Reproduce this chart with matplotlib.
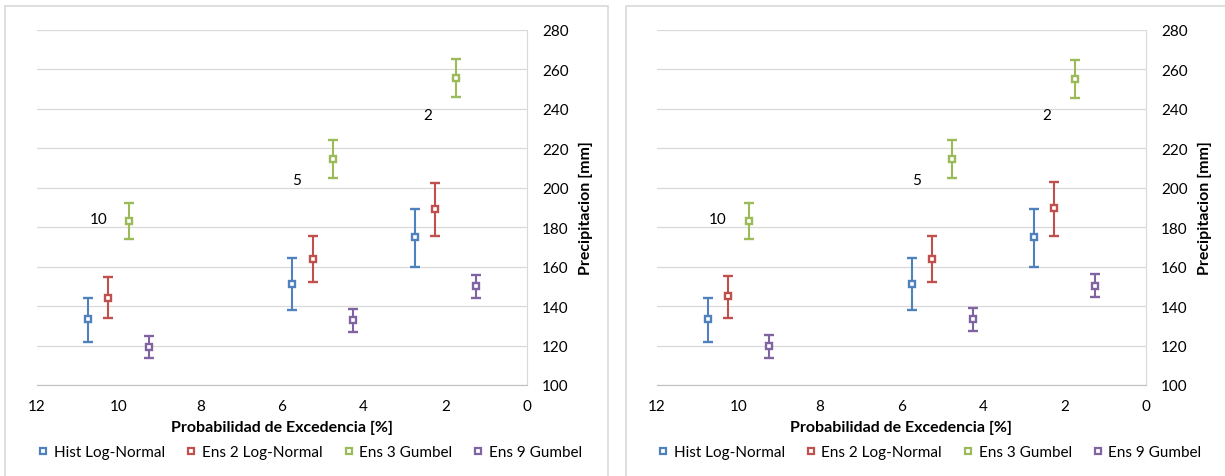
import numpy as np
import matplotlib
matplotlib.use('Agg')
import matplotlib.pyplot as plt
from matplotlib.lines import Line2D
from matplotlib.patches import Rectangle

plt.rcParams['font.family'] = ['Lato', 'DejaVu Sans']

# return periods (years) -> exceedance probability position on x
periods = ['10', '5', '2']
prob = np.array([10, 5, 2])
series = ['Hist Log-Normal', 'Ens 2 Log-Normal', 'Ens 3 Gumbel', 'Ens 9 Gumbel']

# left panel: value, upper bound, lower bound
left_val = {
    'Hist Log-Normal': [133.3, 151.2, 174.8],
    'Ens 2 Log-Normal': [144.1, 163.9, 189.1],
    'Ens 3 Gumbel': [183.2, 214.7, 255.8],
    'Ens 9 Gumbel': [119.4, 133.0, 150.0],
}
left_hi = {
    'Hist Log-Normal': [144.1, 164.3, 189.3],
    'Ens 2 Log-Normal': [154.8, 175.3, 202.5],
    'Ens 3 Gumbel': [192.5, 224.0, 265.1],
    'Ens 9 Gumbel': [125.0, 138.5, 155.6],
}
left_lo = {
    'Hist Log-Normal': [121.8, 138.0, 159.9],
    'Ens 2 Log-Normal': [133.8, 152.1, 175.6],
    'Ens 3 Gumbel': [174.1, 205.2, 246.0],
    'Ens 9 Gumbel': [113.5, 127.0, 144.1],
}

# right panel
right_val = {
    'Hist Log-Normal': [133.3, 151.2, 174.8],
    'Ens 2 Log-Normal': [145.0, 163.9, 189.6],
    'Ens 3 Gumbel': [183.2, 214.7, 255.0],
    'Ens 9 Gumbel': [119.8, 133.3, 150.4],
}
right_hi = {
    'Hist Log-Normal': [144.1, 164.3, 189.3],
    'Ens 2 Log-Normal': [155.1, 175.8, 202.8],
    'Ens 3 Gumbel': [192.5, 224.0, 264.8],
    'Ens 9 Gumbel': [125.5, 138.9, 156.1],
}
right_lo = {
    'Hist Log-Normal': [121.8, 138.0, 159.7],
    'Ens 2 Log-Normal': [134.2, 152.4, 175.6],
    'Ens 3 Gumbel': [174.1, 205.2, 245.5],
    'Ens 9 Gumbel': [113.7, 127.4, 144.6],
}

# period label positions (x, y)
label_x = [10.5, 5.64, 2.43]
label_y = [184.4, 204.0, 237.0]

colors = {'Hist Log-Normal': '#4F81BD', 'Ens 2 Log-Normal': '#C0504D',
          'Ens 3 Gumbel': '#9BBB59', 'Ens 9 Gumbel': '#8064A2'}
offsets = {'Hist Log-Normal': 0.75, 'Ens 2 Log-Normal': 0.25,
           'Ens 3 Gumbel': -0.25, 'Ens 9 Gumbel': -0.75}

W, H = 1225, 477
fig = plt.figure(figsize=(W / 100, H / 100), dpi=100)
FS = 11


def px_rect(x0, x1, ytop, ybot):
    return [x0 / W, 1 - ybot / H, (x1 - x0) / W, (ybot - ytop) / H]


def draw_panel(ax, vals, his, los):
    for s in series:
        v = np.array(vals[s])
        err = [v - np.array(los[s]), np.array(his[s]) - v]
        ax.errorbar(prob + offsets[s], v, yerr=err, fmt='s', ms=4.6, mfc='white',
                    mec=colors[s], mew=1.7, ecolor=colors[s], elinewidth=1.5,
                    capsize=3.5, capthick=1.3, zorder=3)
    for t, lx, ly in zip(periods, label_x, label_y):
        ax.text(lx, ly, t, ha='center', va='center', fontsize=FS, color='black')
    ax.set_xlim(12, 0)
    ax.set_ylim(100, 280)
    ax.set_xticks(range(0, 13, 2))
    ax.set_yticks(range(100, 281, 20))
    ax.yaxis.tick_right()
    ax.yaxis.set_label_position('right')
    ax.grid(axis='y', color='#D9D9D9', lw=0.9)
    ax.set_axisbelow(True)
    for sp in ['top', 'left']:
        ax.spines[sp].set_visible(False)
    ax.spines['bottom'].set_color('#BFBFBF')
    ax.spines['right'].set_color('#D9D9D9')
    ax.tick_params(length=0, labelsize=FS, colors='#000000')
    ax.tick_params(axis='x', pad=10)
    ax.tick_params(axis='y', pad=11)
    ax.set_xlabel('Probabilidad de Excedencia [%]', fontsize=11.5, fontweight='bold', labelpad=5)
    ax.set_ylabel('Precipitacion [mm]', fontsize=11.5, fontweight='bold', labelpad=7)
    handles = [Line2D([], [], ls='none', marker='s', ms=4.2, mfc='white', mec=colors[s], mew=1.6)
               for s in series]
    ax.legend(handles, series, loc='center', bbox_to_anchor=(0.559, -0.19), ncol=4, frameon=False,
              fontsize=FS, handlelength=0.5, handletextpad=0.45, columnspacing=1.45,
              borderpad=0, borderaxespad=0)


ax1 = fig.add_axes(px_rect(37, 527, 31, 386))
draw_panel(ax1, left_val, left_hi, left_lo)
ax2 = fig.add_axes(px_rect(657, 1146, 31, 386))
draw_panel(ax2, right_val, right_hi, right_lo)

# chart borders
fig.patches.append(Rectangle((5 / W, -0.1), 603 / W, 1.1 - 7 / H, transform=fig.transFigure,
                             fill=False, ec='#D9D9D9', lw=1.2))
fig.patches.append(Rectangle((626 / W, -0.1), 0.5, 1.1 - 7 / H, transform=fig.transFigure,
                             fill=False, ec='#D9D9D9', lw=1.2))

plt.savefig('out.png', dpi=100)
